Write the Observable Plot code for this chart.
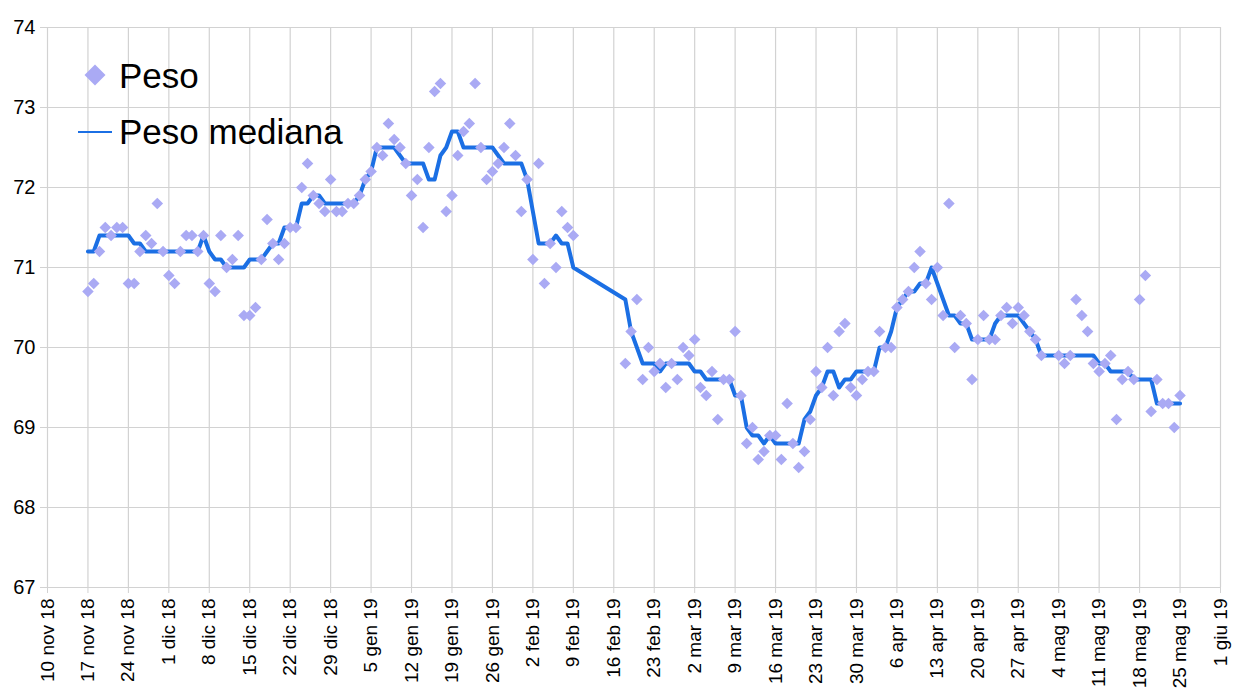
<!DOCTYPE html>
<html>
<head>
<meta charset="utf-8">
<script src="https://cdn.jsdelivr.net/npm/d3@7"></script>
<script src="https://cdn.jsdelivr.net/npm/@observablehq/plot@0.6"></script>
<style>
html, body { margin: 0; padding: 0; background: #fff; }
#wrap { position: relative; width: 1237px; height: 697px; font-family: "Liberation Sans", Arial, sans-serif; }
#legend { position: absolute; left: 0; top: 0; pointer-events: none; }
</style>
</head>
<body>
<div id="wrap"></div>
<script>
// ---- Data (daily values; null = no measurement) ----
const pesoNov18 = [70.7,70.8,71.2,71.5,71.4,71.5,71.5,70.8,70.8,71.2,71.4,71.3,71.8,71.2]; // from 17 nov
const pesoDic18 = [70.9,70.8,71.2,71.4,71.4,71.2,71.4,70.8,70.7,71.4, 71.0,71.1,71.4,70.4,70.4,70.5,71.1,71.6,71.3,71.1, 71.3,71.5,71.5,72.0,72.3,71.9,71.8,71.7,72.1,71.7, 71.7];
const pesoGen19 = [71.8,71.8,71.9,72.1,72.2,72.5,72.4,72.8,72.6,72.5, 72.3,71.9,72.1,71.5,72.5,73.2,73.3,71.7,71.9,72.4, 72.7,72.8,73.3,72.5,72.1,72.2,72.3,72.5,72.8,72.4, 71.7];
const pesoFeb19 = [72.1,71.1,72.3,70.8,71.3,71.0,71.7,71.5,71.4,null, null,null,null,null,null,null,null,69.8,70.2,70.6, 69.6,70.0,69.7,69.8,69.5,69.8,69.6,70.0];
const pesoMar19 = [69.9,70.1,69.5,69.4,69.7,69.1,69.6,69.6,70.2,69.4, 68.8,69.0,68.6,68.7,68.9,68.9,68.6,69.3,68.8,68.5, 68.7,69.1,69.7,69.5,70.0,69.4,70.2,70.3,69.5,69.4, 69.6];
const pesoApr19 = [69.7,69.7,70.2,70.0,70.0,70.5,70.6,70.7,71.0,71.2, 70.8,70.6,71.0,70.4,71.8,70.0,70.4,70.3,69.6,70.1, 70.4,70.1,70.1,70.4,70.5,70.3,70.5,70.4,70.2,70.1];
const pesoMag19 = [69.9,null,null,69.9,69.8,69.9,70.6,70.4,70.2,69.8, 69.7,69.8,69.9,69.1,69.6,69.7,69.6,70.6,70.9,69.2, 69.6,69.3,69.3,69.0,69.4];

const medNov18 = [71.2,71.2,71.4,71.4,71.4,71.4,71.4,71.4,71.3,71.3,71.2,71.2,71.2,71.2]; // from 17 nov
const medDic18 = [71.2,71.2,71.2,71.2,71.2,71.2,71.4,71.2,71.1,71.1, 71.0,71.0,71.0,71.0,71.1,71.1,71.1,71.2,71.3,71.3, 71.5,71.5,71.5,71.8,71.8,71.9,71.9,71.8,71.8,71.8, 71.8];
const medGen19 = [71.8,71.8,71.9,72.1,72.2,72.5,72.5,72.5,72.5,72.4, 72.3,72.3,72.3,72.3,72.1,72.1,72.4,72.5,72.7,72.7, 72.5,72.5,72.5,72.5,72.5,72.5,72.4,72.3,72.3,72.3, 72.3];
const medFeb19 = [72.1,71.7,71.3,71.3,71.3,71.4,71.3,71.3,71.0,null, null,null,null,null,null,null,null,70.6,70.2,70.0, 69.8,69.8,69.8,69.7,69.8,69.8,69.8,69.8];
const medMar19 = [69.8,69.7,69.7,69.6,69.6,69.6,69.6,69.6,69.4,69.4, 69.0,68.9,68.9,68.8,68.9,68.8,68.8,68.8,68.8,68.8, 69.1,69.2,69.4,69.5,69.7,69.7,69.5,69.6,69.6,69.7, 69.7];
const medApr19 = [69.7,69.7,70.0,70.0,70.2,70.5,70.6,70.7,70.7,70.8, 70.8,71.0,70.8,70.6,70.4,70.4,70.3,70.3,70.1,70.1, 70.1,70.1,70.3,70.4,70.4,70.4,70.4,70.3,70.2,70.1];
const medMag19 = [69.9,null,null,69.9,69.9,69.9,69.9,69.9,69.9,69.9, 69.8,69.8,69.7,69.7,69.7,69.7,69.6,69.6,69.6,69.6, 69.3,69.3,69.3,69.3,69.3];

const monthStarts = ["2018-11-17","2018-12-01","2019-01-01","2019-02-01","2019-03-01","2019-04-01","2019-05-01"];
const monthNames = ["gen","feb","mar","apr","mag","giu","lug","ago","set","ott","nov","dic"];
const xDomain = ["2018-11-10","2019-06-01"];
const yTicks = [67,68,69,70,71,72,73,74];
const seriesNames = ["Peso","Peso mediana"];

// ---- Build tables ----
const parse = d3.utcParse("%Y-%m-%d");
function expand(startStr, values) {
  const s = parse(startStr);
  return values.map((v, i) => ({date: d3.utcDay.offset(s, i), value: v}));
}
function build(arrays) {
  return arrays.flatMap((arr, k) => expand(monthStarts[k], arr)).filter(d => d.value != null);
}
const peso = build([pesoNov18, pesoDic18, pesoGen19, pesoFeb19, pesoMar19, pesoApr19, pesoMag19]);
const mediana = build([medNov18, medDic18, medGen19, medFeb19, medMar19, medApr19, medMag19]);

const x0 = parse(xDomain[0]), x1 = parse(xDomain[1]);
const xTicks = d3.utcSaturday.range(x0, d3.utcDay.offset(x1, 1));
const fmt = d => `${d.getUTCDate()} ${monthNames[d.getUTCMonth()]} ${String(d.getUTCFullYear()).slice(2)}`;

const pointColor = "#aaaaf4";
const lineColor = "#1b6fe4";

const chart = Plot.plot({
  width: 1237,
  height: 697,
  marginLeft: 47,
  marginRight: 17,
  marginTop: 27,
  marginBottom: 110,
  style: {fontFamily: "'Liberation Sans', Arial, sans-serif", background: "#fff", color: "#000"},
  x: {type: "utc", domain: [x0, x1]},
  y: {domain: [67, 74]},
  marks: [
    Plot.gridY(yTicks, {stroke: "#d2d2d2", strokeOpacity: 1, strokeWidth: 1.2}),
    Plot.gridX(xTicks, {stroke: "#d2d2d2", strokeOpacity: 1, strokeWidth: 1.2}),
    Plot.axisY(yTicks, {tickSize: 7, stroke: "#d2d2d2", tickPadding: 5, fontSize: 20, label: null, tickFormat: d => String(d)}),
    Plot.axisX(xTicks, {tickSize: 6, stroke: "#d2d2d2", tickRotate: -90, tickFormat: fmt, fontSize: 19, label: null, tickPadding: 5}),
    Plot.line(mediana, {x: "date", y: "value", stroke: lineColor, strokeWidth: 4, strokeLinejoin: "round"}),
    Plot.dot(peso, {x: "date", y: "value", symbol: "diamond2", fill: pointColor, stroke: null, r: 5.2})
  ]
});

const wrap = document.getElementById("wrap");
wrap.appendChild(chart);

// ---- Legend (overlay, top-left inside plot) ----
const ns = "http://www.w3.org/2000/svg";
const leg = document.createElementNS(ns, "svg");
leg.setAttribute("id", "legend");
leg.setAttribute("width", 420);
leg.setAttribute("height", 170);
leg.innerHTML = `
  <path d="M95,64.5 L105.5,75 L95,85.5 L84.5,75 Z" fill="${pointColor}"></path>
  <text x="119" y="88" font-size="35" fill="#000" font-family="'Liberation Sans', Arial, sans-serif">${seriesNames[0]}</text>
  <line x1="78" x2="112" y1="132" y2="132" stroke="${lineColor}" stroke-width="2"></line>
  <text x="119" y="144" font-size="35" fill="#000" font-family="'Liberation Sans', Arial, sans-serif">${seriesNames[1]}</text>
`;
wrap.appendChild(leg);
</script>
</body>
</html>
